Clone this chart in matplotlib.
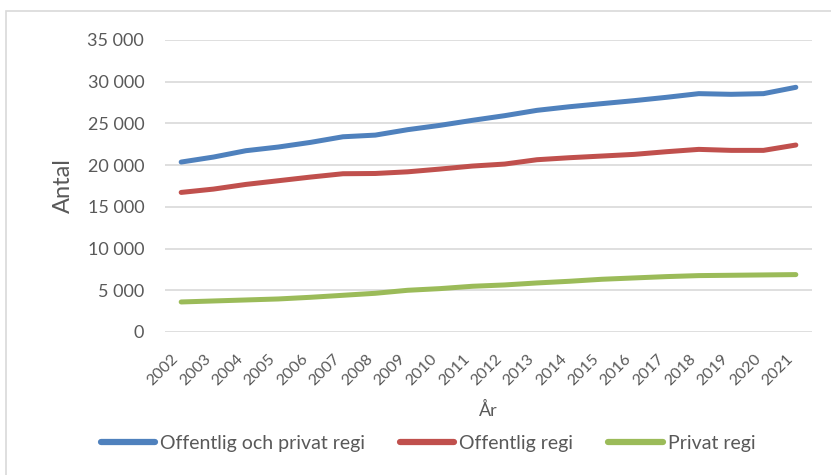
#!/usr/bin/env python3
"""Antal per år, offentlig och privat regi."""
import numpy as np
import matplotlib
matplotlib.use("Agg")
import matplotlib.pyplot as plt
from matplotlib.ticker import FuncFormatter
from matplotlib.patches import Rectangle

years = [str(y) for y in range(2002, 2022)]
total = [20370, 20970, 21730, 22170, 22730, 23400, 23600, 24250, 24770, 25370,
         25930, 26570, 27000, 27370, 27730, 28130, 28570, 28490, 28570, 29330]
offentlig = [16730, 17130, 17690, 18130, 18570, 18970, 19000, 19200, 19530, 19890,
             20130, 20650, 20890, 21090, 21290, 21610, 21890, 21770, 21770, 22410]
privat = [3600, 3720, 3840, 3960, 4160, 4400, 4640, 5000, 5200, 5480,
          5640, 5880, 6080, 6320, 6480, 6640, 6760, 6800, 6840, 6880]
series_labels = ["Offentlig och privat regi", "Offentlig regi", "Privat regi"]
colors = ["#4F81BD", "#C0504D", "#9BBB59"]

plt.rcParams["font.family"] = ["Lato", "DejaVu Sans"]
TXT = "#595959"

fig = plt.figure(figsize=(8.31, 4.75), dpi=100)
fig.patches.append(Rectangle((6 / 831, -0.1), 1.2, 1 - 11 / 475 + 0.1,
                             transform=fig.transFigure, fill=False,
                             edgecolor="#D9D9D9", lw=1.2))
ax = fig.add_axes([165 / 831, 1 - 332 / 475, (812 - 165) / 831, (332 - 40) / 475])

x = np.arange(len(years))
for vals, lab, c in zip([total, offentlig, privat], series_labels, colors):
    ax.plot(x, vals, color=c, lw=3.6, solid_capstyle="round", label=lab)

ax.set_xlim(-0.5, len(years) - 0.5)
ax.set_ylim(0, 35000)
ax.set_yticks(np.arange(0, 35001, 5000))
ax.yaxis.set_major_formatter(FuncFormatter(lambda v, p: f"{int(v):,}".replace(",", " ")))
ax.set_xticks(x)
ax.set_xticklabels(years, rotation=45, ha="right", va="top")
ax.tick_params(axis="y", length=0, labelsize=13, colors=TXT, pad=15)
ax.tick_params(axis="x", length=0, labelsize=11.5, colors=TXT, pad=14)
ax.grid(axis="y", color="#D9D9D9", lw=1.2)
ax.set_axisbelow(True)
for s in ax.spines.values():
    s.set_visible(False)

ax.set_ylabel("Antal", fontsize=17, color=TXT, labelpad=10)
fig.text(488 / 831, 1 - 410 / 475, "År", fontsize=13, color=TXT, ha="center", va="center")

leg = fig.legend(loc="center", bbox_to_anchor=(428 / 831, 1 - 443 / 475), ncol=3,
                 frameon=False, fontsize=14, handlelength=2.8, handletextpad=0.25,
                 columnspacing=1.8)
for t in leg.get_texts():
    t.set_color(TXT)
for h in leg.get_lines():
    h.set_linewidth(4.5)

fig.savefig("out.png", dpi=100)
